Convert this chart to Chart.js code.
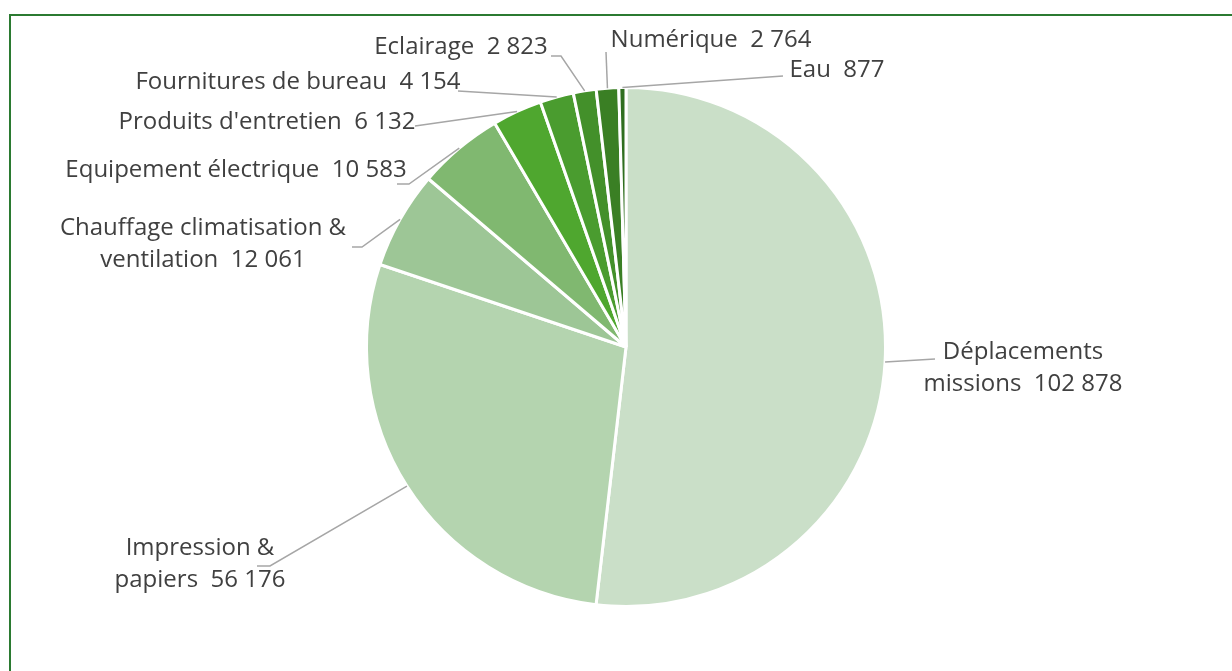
<!DOCTYPE html>
<html>
<head>
<meta charset="utf-8">
<script src="https://cdn.jsdelivr.net/npm/chart.js@4/dist/chart.umd.min.js"></script>
<style>
  html, body { margin: 0; padding: 0; background: #fff; overflow: hidden; }
  #wrap { position: relative; width: 1232px; height: 671px; }
  #frame { position: absolute; left: 9px; top: 14px; width: 1400px; height: 800px; border: 2px solid #2b7a31; box-sizing: border-box; pointer-events: none; }
  canvas { position: absolute; left: 0; top: 0; }
</style>
</head>
<body>
<div id="wrap">
  <canvas id="c" width="1232" height="671"></canvas>
  <div id="frame"></div>
</div>
<script>
const categories = ['Déplacements missions', 'Impression & papiers', 'Chauffage climatisation & ventilation', 'Equipement électrique', "Produits d'entretien", 'Fournitures de bureau', 'Eclairage', 'Numérique', 'Eau'];
const values = [102878, 56176, 12061, 10583, 6132, 4154, 2823, 2764, 877];
const sliceColors = ['#cadfc8', '#b4d4af', '#9dc696', '#80b870', '#4fa72f', '#4a9c2f', '#43902a', '#3a7f24', '#2f6e1f'];

// label layout (text block centre x, first line centre y, wrap width, leader path after the arc point)
const labelLayout = [
  { x: 1023, y: 352, wrap: 240, path: [[935, 359]] },
  { x: 200, y: 548, wrap: 200, path: [[270, 566], [257, 566]] },
  { x: 203, y: 228, wrap: 330, path: [[362, 247], [352, 247]] },
  { x: 236, y: 170, wrap: 700, path: [[409, 184], [397, 184]] },
  { x: 267, y: 122, wrap: 700, path: [[415, 126]] },
  { x: 298, y: 82, wrap: 700, path: [[458, 91]] },
  { x: 461, y: 47, wrap: 700, path: [[561, 56], [551, 56]] },
  { x: 711, y: 40, wrap: 700, path: [[606, 52]] },
  { x: 837, y: 70, wrap: 700, path: [[783, 76]] }
];

const FONT = '24px "Open Sans", "Noto Sans", sans-serif';
const LINE_H = 32;

function fmt(n) {
  return String(n).replace(/\B(?=(\d{3})+(?!\d))/g, ' ');
}

const labelPlugin = {
  id: 'pieLabels',
  afterDatasetsDraw(chart) {
    const ctx = chart.ctx;
    const meta = chart.getDatasetMeta(0);
    ctx.save();
    ctx.font = FONT;
    meta.data.forEach((arc, i) => {
      const L = labelLayout[i];
      const p = arc.getProps(['x', 'y', 'startAngle', 'endAngle', 'outerRadius'], true);
      const mid = (p.startAngle + p.endAngle) / 2;
      const sx = p.x + Math.cos(mid) * p.outerRadius;
      const sy = p.y + Math.sin(mid) * p.outerRadius;
      ctx.beginPath();
      ctx.strokeStyle = '#a6a6a6';
      ctx.lineWidth = 1.5;
      ctx.moveTo(sx, sy);
      L.path.forEach(pt => ctx.lineTo(pt[0], pt[1]));
      ctx.stroke();

      const words = categories[i].split(' ');
      const tokens = words.map((w, k) => (k === 0 ? w : ' ' + w));
      tokens.push('  ' + fmt(values[i]));
      const lines = [];
      let cur = '';
      tokens.forEach(t => {
        const trial = cur + t;
        if (cur && ctx.measureText(trial).width > L.wrap) {
          lines.push(cur);
          cur = t.replace(/^\s+/, '');
        } else {
          cur = trial;
        }
      });
      lines.push(cur);
      ctx.fillStyle = '#404040';
      ctx.textAlign = 'center';
      ctx.textBaseline = 'middle';
      lines.forEach((ln, k) => ctx.fillText(ln, L.x, L.y + k * LINE_H));
    });
    ctx.restore();
  }
};

new Chart(document.getElementById('c'), {
  type: 'pie',
  data: {
    labels: categories,
    datasets: [{
      data: values,
      backgroundColor: sliceColors,
      borderColor: '#ffffff',
      borderWidth: 3
    }]
  },
  options: {
    responsive: false,
    animation: false,
    layout: { padding: { left: 365, right: 345, top: 86, bottom: 63 } },
    plugins: { legend: { display: false }, tooltip: { enabled: false } }
  },
  plugins: [labelPlugin]
});
</script>
</body>
</html>
